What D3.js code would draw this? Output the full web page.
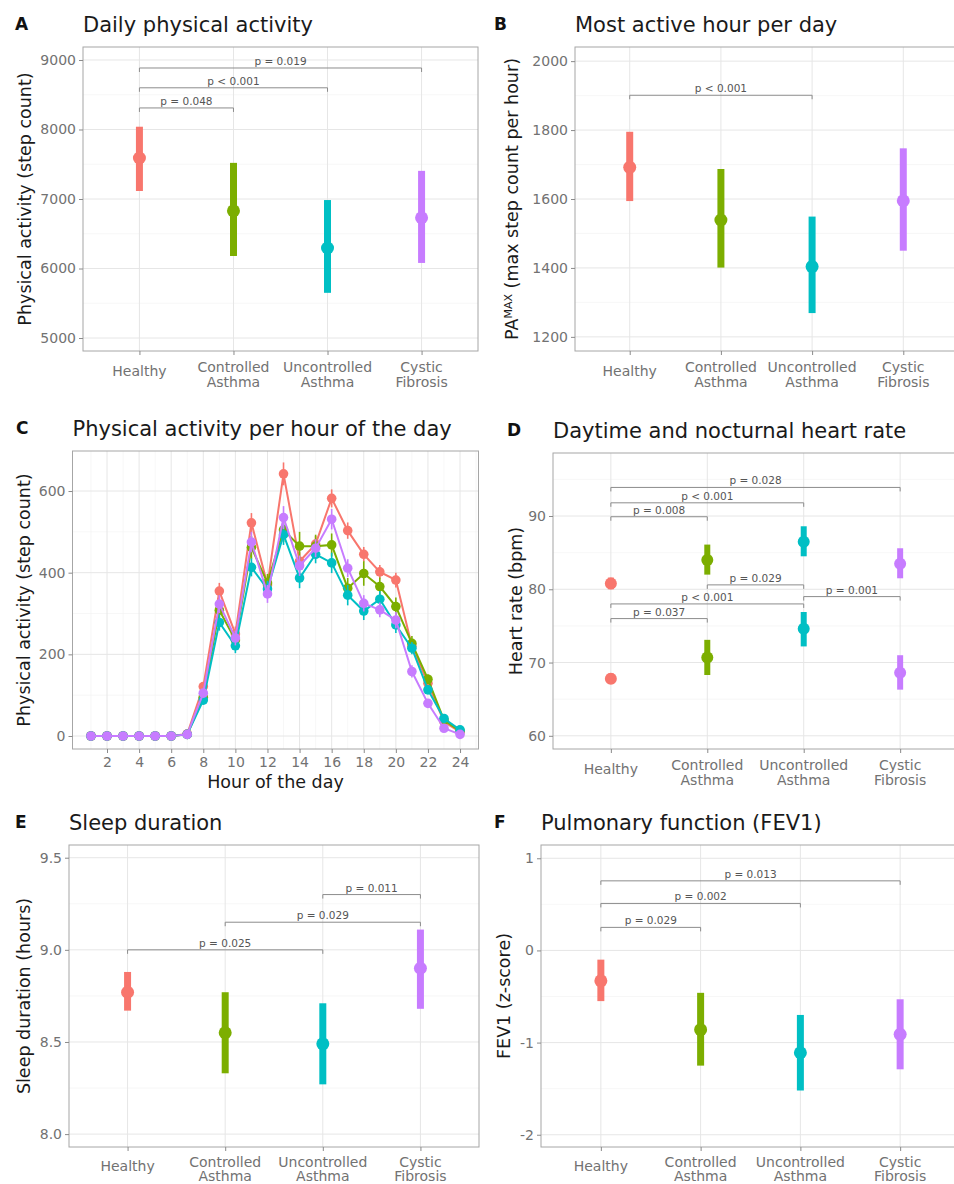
<!DOCTYPE html>
<html>
<head>
<meta charset="utf-8">
<script src="https://cdn.jsdelivr.net/npm/d3@7"></script>
<style>
  body { margin: 0; background: #fff; }
  svg { display: block; font-family: "DejaVu Sans", sans-serif; }
</style>
</head>
<body>
<div id="chart"></div>
<script>
// Groups shared by every panel
const groupLines = [["Healthy"], ["Controlled", "Asthma"], ["Uncontrolled", "Asthma"], ["Cystic", "Fibrosis"]];
const groupColors = ["#F8766D", "#7CAE00", "#00BFC4", "#C77CFF"];

// A: daily step count (mean and 95% CI)
const stepsMean = [7590, 6830, 6295, 6730];
const stepsLow = [7115, 6180, 5650, 6080];
const stepsHigh = [8040, 7520, 6985, 7405];
const stepsTests = [[0, 1, 8310, "p = 0.048"], [0, 2, 8600, "p < 0.001"], [0, 3, 8885, "p = 0.019"]];

// B: max step count per hour
const peakMean = [1692, 1539, 1404, 1595];
const peakLow = [1594, 1401, 1269, 1450];
const peakHigh = [1795, 1687, 1549, 1747];
const peakTests = [[0, 2, 1901, "p < 0.001"]];

// C: step count per hour of the day
const hours = [1, 2, 3, 4, 5, 6, 7, 8, 9, 10, 11, 12, 13, 14, 15, 16, 17, 18, 19, 20, 21, 22, 23, 24];
const hourTicks = [2, 4, 6, 8, 10, 12, 14, 16, 18, 20, 22, 24];
const hourlyHealthy = [0, 0, 0, 0, 0, 0, 5, 121, 355, 250, 522, 370, 642, 428, 470, 582, 503, 445, 402, 382, 220, 129, 35, 10];
const hourlyControlled = [0, 0, 0, 0, 0, 0, 4, 95, 308, 235, 462, 375, 505, 465, 465, 468, 362, 398, 366, 317, 227, 139, 39, 12];
const hourlyUncontrolled = [0, 0, 0, 0, 0, 0, 4, 88, 278, 221, 413, 360, 493, 387, 445, 424, 345, 306, 335, 272, 215, 113, 43, 15];
const hourlyCF = [0, 0, 0, 0, 0, 0, 4, 105, 323, 240, 475, 348, 535, 417, 460, 531, 411, 325, 309, 284, 158, 80, 19, 4];
const seHealthy = [0, 0, 0, 0, 0, 0, 2, 10, 20, 18, 24, 20, 28, 22, 20, 22, 20, 18, 17, 18, 15, 10, 5, 2];
const seControlled = [0, 0, 0, 0, 0, 0, 2, 10, 22, 18, 28, 22, 30, 35, 28, 28, 25, 30, 22, 22, 18, 12, 6, 2];
const seUncontrolled = [0, 0, 0, 0, 0, 0, 2, 10, 20, 18, 22, 20, 25, 25, 22, 25, 25, 22, 20, 20, 15, 10, 5, 2];
const seCF = [0, 0, 0, 0, 0, 0, 2, 10, 22, 18, 25, 22, 28, 25, 22, 25, 22, 20, 18, 20, 15, 10, 5, 2];

// D: daytime and nocturnal heart rate
const hrDayMean = [80.8, 84.0, 86.5, 83.5];
const hrDayLow = [80.0, 82.0, 84.5, 81.5];
const hrDayHigh = [81.6, 86.1, 88.6, 85.6];
const hrNightMean = [67.8, 70.7, 74.6, 68.6];
const hrNightLow = [67.1, 68.3, 72.2, 66.3];
const hrNightHigh = [68.5, 73.1, 76.9, 71.0];
const hrTests = [[0, 3, 93.9, "p = 0.028"], [0, 2, 91.8, "p < 0.001"], [0, 1, 89.9, "p = 0.008"],
  [1, 2, 80.6, "p = 0.029"], [2, 3, 79.0, "p = 0.001"], [0, 2, 78.0, "p < 0.001"], [0, 1, 76.0, "p = 0.037"]];

// E: sleep duration
const sleepMean = [8.77, 8.55, 8.49, 8.90];
const sleepLow = [8.67, 8.33, 8.27, 8.68];
const sleepHigh = [8.88, 8.77, 8.71, 9.11];
const sleepTests = [[0, 2, 9.0, "p = 0.025"], [1, 3, 9.15, "p = 0.029"], [2, 3, 9.30, "p = 0.011"]];

// F: FEV1 z-score
const fevMean = [-0.33, -0.86, -1.11, -0.91];
const fevLow = [-0.55, -1.25, -1.52, -1.29];
const fevHigh = [-0.10, -0.46, -0.70, -0.53];
const fevTests = [[0, 1, 0.25, "p = 0.029"], [0, 2, 0.51, "p = 0.002"], [0, 3, 0.755, "p = 0.013"]];

const svg = d3.select("#chart").append("svg")
  .attr("width", 954)
  .attr("height", 1184);

svg.append("rect").attr("width", 954).attr("height", 1184).attr("fill", "#fff");

// grid, border, axes, titles for one panel
function drawFrame(g, x, y, p) {
  const grid = g.append("g");
  grid.selectAll(".ymin").data(p.yMinor).enter().append("line")
    .attr("x1", p.left).attr("x2", p.right)
    .attr("y1", d => y(d)).attr("y2", d => y(d))
    .attr("stroke", "#f4f4f4").attr("stroke-width", 0.7);
  grid.selectAll(".xmin").data(p.xMinor || []).enter().append("line")
    .attr("y1", p.top).attr("y2", p.bottom)
    .attr("x1", d => x(d)).attr("x2", d => x(d))
    .attr("stroke", "#f4f4f4").attr("stroke-width", 0.7);
  grid.selectAll(".ymaj").data(p.yTicks).enter().append("line")
    .attr("x1", p.left).attr("x2", p.right)
    .attr("y1", d => y(d)).attr("y2", d => y(d))
    .attr("stroke", "#e6e6e6").attr("stroke-width", 1);
  grid.selectAll(".xmaj").data(p.xTicks).enter().append("line")
    .attr("y1", p.top).attr("y2", p.bottom)
    .attr("x1", d => x(d)).attr("x2", d => x(d))
    .attr("stroke", "#e6e6e6").attr("stroke-width", 1);

  g.append("rect")
    .attr("x", p.left).attr("y", p.top)
    .attr("width", p.right - p.left).attr("height", p.bottom - p.top)
    .attr("fill", "none").attr("stroke", "#a6a6a6").attr("stroke-width", 1);

  const yAxis = g.append("g")
    .attr("transform", "translate(" + p.left + ",0)")
    .call(d3.axisLeft(y).tickValues(p.yTicks).tickSize(4).tickPadding(3).tickFormat(p.yFormat));
  const xAxis = g.append("g")
    .attr("transform", "translate(0," + p.bottom + ")")
    .call(d3.axisBottom(x).tickValues(p.xTicks).tickSize(4).tickPadding(4).tickFormat(p.xFormat || (() => "")));

  [yAxis, xAxis].forEach(a => {
    a.attr("font-family", null).attr("font-size", null);
    a.select(".domain").remove();
    a.selectAll(".tick line").attr("stroke", "#8a8a8a");
    a.selectAll(".tick text").attr("fill", "#727272").style("font-size", "14px");
  });

  if (!p.xFormat) {
    const off = p.labelOffsets || [21, 36, 25];
    g.selectAll(".xlab").data(groupLines).enter().append("text")
      .attr("text-anchor", "middle")
      .attr("fill", "#727272")
      .style("font-size", "14px")
      .each(function (d, i) {
        const t = d3.select(this);
        if (d.length === 1) {
          t.append("tspan").attr("x", x(i + 1)).attr("y", p.bottom + off[2]).text(d[0]);
        } else {
          d.forEach((s, k) => t.append("tspan").attr("x", x(i + 1)).attr("y", p.bottom + off[k]).text(s));
        }
      });
  }

  g.append("text")
    .attr("x", p.left).attr("y", p.top - 15)
    .style("font-size", "21px").attr("fill", "#1a1a1a")
    .text(p.title);

  g.append("text")
    .attr("x", p.tagX).attr("y", p.top - 17)
    .style("font-size", "17px").style("font-weight", "bold").attr("fill", "#111")
    .text(p.tag);

  const yt = g.append("text")
    .attr("transform", "translate(" + p.yTitleX + "," + ((p.top + p.bottom) / 2) + ") rotate(-90)")
    .attr("text-anchor", "middle")
    .attr("dy", "0.35em")
    .style("font-size", "17.5px").attr("fill", "#1a1a1a");
  p.yTitle(yt);
}

// significance brackets
function drawTests(g, x, y, tests) {
  tests.forEach(t => {
    const xa = x(t[0] + 1), xb = x(t[1] + 1), yy = y(t[2]);
    g.append("path")
      .attr("d", "M" + xa + "," + (yy + 4) + "V" + yy + "H" + xb + "V" + (yy + 4))
      .attr("fill", "none").attr("stroke", "#8c8c8c").attr("stroke-width", 1);
    g.append("text")
      .attr("x", (xa + xb) / 2).attr("y", yy - 3)
      .attr("text-anchor", "middle")
      .style("font-size", "10.5px").attr("fill", "#555")
      .text(t[3]);
  });
}

// vertical mean + CI ranges
function drawRanges(g, x, y, mean, low, high, barWidth, radius) {
  const r = g.append("g");
  r.selectAll("line").data(mean).enter().append("line")
    .attr("x1", (d, i) => x(i + 1)).attr("x2", (d, i) => x(i + 1))
    .attr("y1", (d, i) => y(low[i])).attr("y2", (d, i) => y(high[i]))
    .attr("stroke", (d, i) => groupColors[i]).attr("stroke-width", barWidth);
  r.selectAll("circle").data(mean).enter().append("circle")
    .attr("cx", (d, i) => x(i + 1)).attr("cy", d => y(d)).attr("r", radius)
    .attr("fill", (d, i) => groupColors[i]);
}

function groupPanel(p) {
  const g = svg.append("g");
  const x = d3.scaleLinear().domain([0.4, 4.6]).range([p.left, p.right]);
  const y = d3.scaleLinear().domain(p.yDomain).range([p.bottom, p.top]);
  p.xTicks = [1, 2, 3, 4];
  drawFrame(g, x, y, p);
  p.ranges.forEach(s => drawRanges(g, x, y, s[0], s[1], s[2], p.barWidth || 7, p.radius || 6.5));
  drawTests(g, x, y, p.tests);
}

const simpleTitle = s => (t => t.text(s));

groupPanel({
  left: 83, right: 478, top: 47, bottom: 351,
  yDomain: [4813, 9187], yTicks: [5000, 6000, 7000, 8000, 9000], yMinor: [5500, 6500, 7500, 8500],
  yFormat: d3.format("d"),
  title: "Daily physical activity", tag: "A", tagX: 15, yTitleX: 25,
  yTitle: simpleTitle("Physical activity (step count)"),
  ranges: [[stepsMean, stepsLow, stepsHigh]], tests: stepsTests
});

groupPanel({
  left: 575, right: 958, top: 47, bottom: 351,
  yDomain: [1159, 2041], yTicks: [1200, 1400, 1600, 1800, 2000], yMinor: [1300, 1500, 1700, 1900],
  yFormat: d3.format("d"),
  title: "Most active hour per day", tag: "B", tagX: 494, yTitleX: 512,
  yTitle: t => {
    t.append("tspan").text("PA");
    t.append("tspan").attr("baseline-shift", "super").style("font-size", "11px").text("MAX");
    t.append("tspan").text(" (max step count per hour)");
  },
  ranges: [[peakMean, peakLow, peakHigh]], tests: peakTests
});

groupPanel({
  left: 553, right: 958, top: 453, bottom: 749,
  yDomain: [58.2, 98.6], yTicks: [60, 70, 80, 90], yMinor: [65, 75, 85, 95],
  yFormat: d => String(d),
  title: "Daytime and nocturnal heart rate", tag: "D", tagX: 507, yTitleX: 516,
  yTitle: simpleTitle("Heart rate (bpm)"),
  barWidth: 6, radius: 6,
  ranges: [[hrDayMean, hrDayLow, hrDayHigh], [hrNightMean, hrNightLow, hrNightHigh]], tests: hrTests
});

groupPanel({
  left: 69, right: 479, top: 845, bottom: 1147,
  yDomain: [7.93, 9.569], yTicks: [8.0, 8.5, 9.0, 9.5], yMinor: [8.25, 8.75, 9.25],
  yFormat: d3.format(".1f"),
  title: "Sleep duration", tag: "E", tagX: 15, yTitleX: 24,
  yTitle: simpleTitle("Sleep duration (hours)"),
  labelOffsets: [20, 34, 24],
  ranges: [[sleepMean, sleepLow, sleepHigh]], tests: sleepTests
});

groupPanel({
  left: 541, right: 960, top: 845, bottom: 1147,
  yDomain: [-2.133, 1.144], yTicks: [-2, -1, 0, 1], yMinor: [-1.5, -0.5, 0.5],
  yFormat: d => String(d),
  title: "Pulmonary function (FEV1)", tag: "F", tagX: 494, yTitleX: 504,
  yTitle: simpleTitle("FEV1 (z-score)"),
  labelOffsets: [20, 34, 24],
  ranges: [[fevMean, fevLow, fevHigh]], tests: fevTests
});

// C: hourly lines
(function () {
  const p = {
    left: 72.5, right: 478.5, top: 451, bottom: 749,
    yTicks: [0, 200, 400, 600], yMinor: [100, 300, 500],
    xTicks: hourTicks, xMinor: [1, 3, 5, 7, 9, 11, 13, 15, 17, 19, 21, 23, 25],
    yFormat: d3.format("d"), xFormat: d3.format("d"),
    title: "Physical activity per hour of the day", tag: "C", tagX: 16, yTitleX: 24,
    yTitle: simpleTitle("Physical activity (step count)")
  };
  const g = svg.append("g");
  const x = d3.scaleLinear().domain([-0.15, 25.15]).range([p.left, p.right]);
  const y = d3.scaleLinear().domain([-31.8, 698]).range([p.bottom, p.top]);
  drawFrame(g, x, y, p);

  g.append("text")
    .attr("x", (p.left + p.right) / 2).attr("y", p.bottom + 39)
    .attr("text-anchor", "middle")
    .style("font-size", "17.5px").attr("fill", "#1a1a1a")
    .text("Hour of the day");

  const series = [[hourlyHealthy, seHealthy], [hourlyControlled, seControlled],
    [hourlyUncontrolled, seUncontrolled], [hourlyCF, seCF]];
  const line = d3.line().x((d, i) => x(hours[i])).y(d => y(d));

  series.forEach((s, k) => {
    const c = groupColors[k];
    const sg = g.append("g");
    sg.append("path").datum(s[0]).attr("d", line)
      .attr("fill", "none").attr("stroke", c).attr("stroke-width", 2);
    sg.selectAll("line").data(s[0]).enter().append("line")
      .attr("x1", (d, i) => x(hours[i])).attr("x2", (d, i) => x(hours[i]))
      .attr("y1", (d, i) => y(d - s[1][i])).attr("y2", (d, i) => y(d + s[1][i]))
      .attr("stroke", c).attr("stroke-width", 1.6);
    sg.selectAll("circle").data(s[0]).enter().append("circle")
      .attr("cx", (d, i) => x(hours[i])).attr("cy", d => y(d)).attr("r", 4.8)
      .attr("fill", c);
  });
})();
</script>
</body>
</html>
